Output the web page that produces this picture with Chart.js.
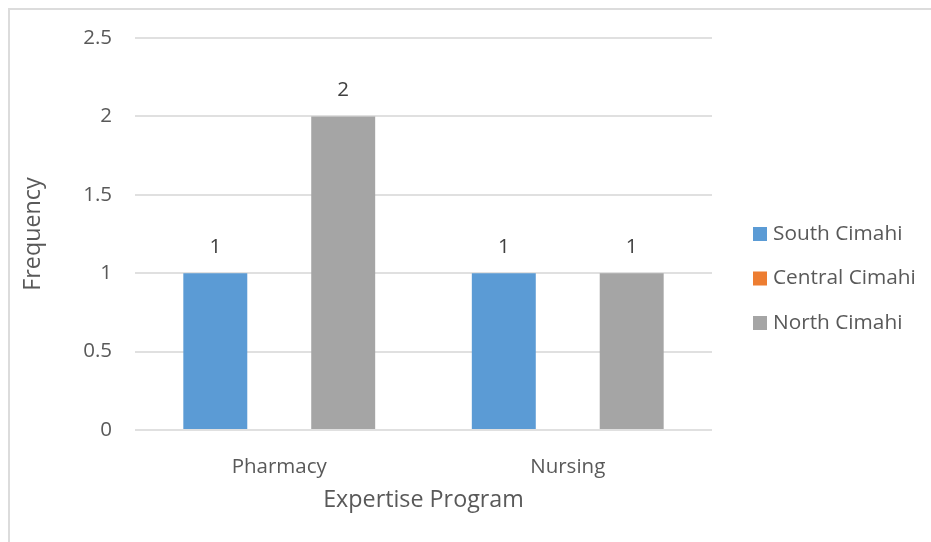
<!DOCTYPE html>
<html>
<head>
<meta charset="utf-8">
<script src="https://cdn.jsdelivr.net/npm/chart.js@4/dist/chart.umd.min.js"></script>
<style>
  body { margin: 0; background: #fff; }
  #frame { position: absolute; left: 8px; top: 8px; width: 923px; height: 534px; border-left: 2px solid #dcdcdc; border-top: 2px solid #dcdcdc; }
  canvas { position: absolute; left: 0; top: 0; }
</style>
</head>
<body>
<div id="frame"></div>
<canvas id="myCanvas" width="931" height="542"></canvas>
<script>
'use strict';

// data
const programs = ['Pharmacy', 'Nursing'];
const southCimahi = [1, 1];
const centralCimahi = [null, null];
const northCimahi = [2, 1];
const yMax = 2.5;
const yStep = 0.5;

const textColor = '#595959';
const fontFamily = '"Open Sans", sans-serif';

// numbers above each bar
const valueLabels = {
  id: 'valueLabels',
  afterDatasetsDraw(chart) {
    const ctx = chart.ctx;
    ctx.save();
    ctx.font = '20.5px ' + fontFamily;
    ctx.fillStyle = '#404040';
    ctx.textAlign = 'center';
    ctx.textBaseline = 'middle';
    chart.data.datasets.forEach((ds, i) => {
      chart.getDatasetMeta(i).data.forEach((bar, j) => {
        if (ds.data[j] == null) return;
        ctx.fillText(String(ds.data[j]), bar.x, bar.y - 26);
      });
    });
    ctx.restore();
  }
};

// legend on the right, one row per series
const sideLegend = {
  id: 'sideLegend',
  afterDraw(chart) {
    const ctx = chart.ctx;
    ctx.save();
    ctx.font = '20.8px ' + fontFamily;
    ctx.textAlign = 'left';
    ctx.textBaseline = 'middle';
    chart.data.datasets.forEach((ds, i) => {
      let y = 234 + i * 44.5;
      ctx.fillStyle = ds.backgroundColor;
      ctx.fillRect(753, y - 7, 14, 14);
      ctx.fillStyle = textColor;
      ctx.fillText(ds.label, 773, y);
    });
    ctx.restore();
  }
};

function renderChart() {
  Chart.defaults.font.family = fontFamily;
  Chart.defaults.color = textColor;

  const data = {
    labels: programs,
    datasets: [
      { label: 'South Cimahi', data: southCimahi, backgroundColor: '#5B9BD5' },
      { label: 'Central Cimahi', data: centralCimahi, backgroundColor: '#ED7D31' },
      { label: 'North Cimahi', data: northCimahi, backgroundColor: '#A5A5A5' }
    ]
  };

  const config = {
    type: 'bar',
    data: data,
    options: {
      responsive: false,
      animation: false,
      layout: { padding: { left: 0, top: 38, right: 219, bottom: 0 } },
      datasets: { bar: { barPercentage: 1, categoryPercentage: 0.665 } },
      plugins: {
        legend: { display: false },
        tooltip: { enabled: false }
      },
      scales: {
        x: {
          grid: { display: false },
          border: { display: false },
          ticks: { font: { size: 20.5 }, padding: 17 },
          title: { display: true, text: 'Expertise Program', font: { size: 23.3 }, padding: { bottom: 28 } },
          afterFit(scale) { scale.height = 112; }
        },
        y: {
          min: 0,
          max: yMax,
          ticks: {
            stepSize: yStep,
            font: { size: 20.5 },
            padding: 23,
            callback: (value) => String(value)
          },
          grid: { color: '#e0e0e0', lineWidth: 2, drawTicks: false },
          border: { display: false },
          title: { display: true, text: 'Frequency', font: { size: 23.3 }, padding: { top: 19 } },
          afterFit(scale) { scale.width = 135; }
        }
      }
    },
    plugins: [valueLabels, sideLegend]
  };

  const chart = document.getElementById('myCanvas');
  new Chart(chart, config);
}

document.fonts.load('20px "Open Sans"').then(renderChart, renderChart);
</script>
</body>
</html>
